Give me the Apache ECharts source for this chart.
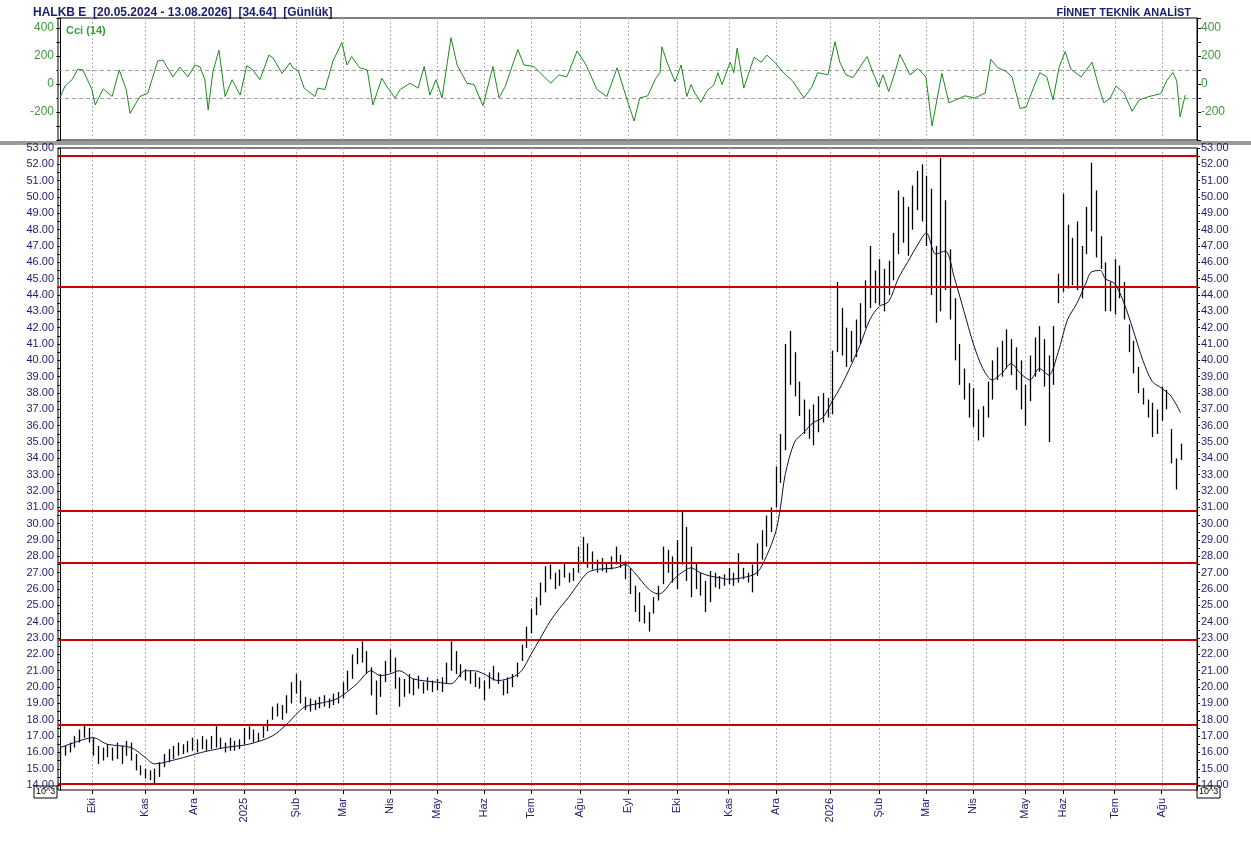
<!DOCTYPE html>
<html lang="tr">
<head>
<meta charset="UTF-8">
<script src="https://cdn.jsdelivr.net/npm/echarts@6/dist/echarts.min.js"></script>
<title>HALKB E</title>
<style>
  html, body { margin: 0; padding: 0; background: #fff; }
  #chart { width: 1251px; height: 841px; }
</style>
</head>
<body>
<div id="chart"></div>
<script>
// ay etiketleri (bar indeksine göre)
const monthIdx = [6.8, 18, 28.3, 39, 50, 60, 70, 80, 90, 100, 110.5, 120.7, 131, 142, 152, 163.6, 174, 184, 194, 205, 213, 224, 234];
const monthLabels = ['Eki', 'Kas', 'Ara', '2025', 'Şub', 'Mar', 'Nis', 'May', 'Haz', 'Tem', 'Ağu', 'Eyl', 'Eki', 'Kas', 'Ara', '2026', 'Şub', 'Mar', 'Nis', 'May', 'Haz', 'Tem', 'Ağu'];

// fiyat ekseni etiketleri
const priceTicks = [14, 15, 16, 17, 18, 19, 20, 21, 22, 23, 24, 25, 26, 27, 28, 29, 30, 31, 32, 33, 34, 35, 36, 37, 38, 39, 40, 41, 42, 43, 44, 45, 46, 47, 48, 49, 50, 51, 52, 53];

// fiyat barları (yüksek / düşük)
const highs = [
  16.3, 16.4, 16.6, 17.0, 17.4, 17.7, 17.5,
  16.9, 16.4, 16.3, 16.5, 16.3, 16.6, 16.4, 16.7, 16.6, 15.9, 15.2,
  15.0, 14.9, 15.0, 15.4, 15.9, 16.2, 16.4, 16.6, 16.5, 16.7,
  16.9, 16.8, 17.0, 16.8, 17.0, 17.6, 16.9, 16.6, 16.9, 16.7, 16.8,
  17.5, 17.6, 17.4, 17.2, 17.6, 18.0, 18.8, 19.0, 18.9, 19.5, 20.3,
  20.8, 20.4, 19.4, 19.3, 19.2, 19.4, 19.5, 19.3, 19.6, 19.7,
  20.3, 21.0, 22.0, 22.4, 22.8, 22.2, 21.2, 20.4, 20.8, 21.6,
  22.3, 21.8, 20.6, 20.5, 20.8, 20.5, 20.7, 20.3, 20.6, 20.4,
  20.5, 20.6, 21.5, 22.8, 22.2, 21.4, 21.1, 21.0, 20.9, 20.6,
  20.4, 20.9, 21.3, 20.9, 20.4, 20.6, 20.8, 21.5, 22.6, 23.7,
  24.8, 25.5, 26.4, 27.4, 27.5, 27.0, 27.2, 27.6, 27.0, 27.3,
  28.6, 29.2, 28.8, 28.3, 27.8, 27.9, 27.6, 28.0, 28.6, 28.1,
  27.7, 27.3, 26.2, 25.8, 25.0, 24.6, 25.5, 26.2, 28.6, 28.4,
  28.0, 29.0, 30.8, 29.8, 28.6, 27.6, 27.0, 26.5, 27.1, 27.0, 26.8, 26.9,
  27.3, 27.0, 28.2, 27.3, 27.0, 27.5, 28.8, 29.6, 30.5, 31.0,
  33.5, 35.5, 41.0, 41.8, 40.5, 38.7, 37.6, 37.0, 37.3, 37.8, 38.0, 37.7,
  40.6, 44.8, 43.2, 42.0, 41.8, 42.5, 43.5, 44.9, 47.0, 45.5,
  46.2, 45.6, 46.1, 47.8, 50.4, 50.0, 49.4, 50.7, 51.6, 52.0,
  51.3, 50.5, 47.0, 52.4, 49.8, 46.8, 43.8, 41.0, 39.5, 38.6,
  38.3, 37.0, 37.2, 38.7, 40.0, 40.8, 41.2, 41.9, 41.3, 40.8,
  40.0, 38.5, 40.3, 41.4, 42.1, 41.3, 40.3, 42.1, 45.3,
  50.2, 48.3, 47.5, 48.5, 47.0, 49.4, 52.1, 50.4, 47.6, 46.0, 44.8,
  46.2, 45.8, 44.8, 42.2, 41.2, 39.6, 38.3, 37.6, 37.4, 37.0,
  38.4, 38.2, 35.8, 34.0, 34.9
];
const lows = [
  15.1, 15.8, 16.0, 16.3, 16.6, 16.9, 16.6,
  15.8, 15.3, 15.5, 15.7, 15.5, 15.6, 15.3, 15.8, 15.5, 14.9, 14.6,
  14.4, 14.3, 14.1, 14.5, 15.1, 15.4, 15.6, 15.8, 15.9, 16.0,
  16.1, 16.0, 16.2, 16.1, 16.2, 16.3, 16.2, 16.0, 16.1, 16.1, 16.2,
  16.5, 16.8, 16.6, 16.7, 16.9, 17.3, 18.0, 18.2, 18.0, 18.4, 19.0,
  19.6, 19.0, 18.6, 18.5, 18.6, 18.7, 18.8, 18.7, 18.9, 19.0,
  19.3, 19.8, 20.5, 21.4, 21.5, 20.8, 19.5, 18.3, 19.4, 20.3,
  20.9, 19.9, 18.8, 19.4, 19.6, 19.5, 19.9, 19.6, 19.8, 19.7,
  19.8, 19.7, 20.2, 21.0, 20.8, 20.6, 20.4, 20.2, 20.0, 19.9,
  19.2, 19.9, 20.4, 20.2, 19.5, 19.6, 20.0, 20.6, 21.6, 22.4,
  23.3, 24.4, 25.0, 25.8, 26.6, 26.0, 26.2, 26.7, 26.4, 26.5,
  27.0, 27.6, 27.3, 27.2, 27.0, 27.1, 27.0, 27.2, 27.5, 27.3,
  26.6, 25.7, 24.6, 24.0, 23.9, 23.4, 24.5, 25.3, 26.3, 27.0,
  26.4, 26.0, 27.5, 26.5, 25.5, 26.0, 25.6, 24.6, 25.2, 26.1, 26.0, 26.2,
  26.3, 26.2, 26.4, 26.6, 26.4, 25.8, 26.8, 27.8, 28.6, 29.5,
  31.0, 32.5, 34.5, 38.5, 37.8, 36.6, 35.5, 35.2, 34.8, 35.6, 36.2, 36.5,
  36.7, 40.5, 40.3, 39.6, 39.9, 40.2, 41.0, 42.0, 43.2, 43.5,
  43.4, 43.0, 44.0, 44.9, 46.5, 47.2, 46.4, 48.0, 49.2, 48.5,
  47.0, 44.0, 42.3, 43.0, 44.3, 42.5, 40.0, 38.5, 37.6, 36.5,
  35.9, 35.1, 35.3, 36.5, 37.6, 38.8, 39.0, 39.5, 39.1, 38.2,
  37.0, 36.0, 37.5, 39.0, 39.3, 38.4, 35.0, 38.5, 43.5,
  44.2, 44.4, 44.6, 44.3, 43.8, 46.5, 47.9, 46.3, 45.6, 43.0, 43.0,
  42.8, 43.8, 42.5, 40.5, 39.2, 38.0, 37.3, 36.5, 35.3, 35.5,
  36.3, 37.0, 33.7, 32.1, 33.9
];

// hareketli ortalama (okunan noktalar)
const maIdx = [0, 5, 7, 10, 15, 18, 20, 25, 30, 35, 40, 45, 48, 50, 52, 55, 58, 60, 63, 66, 68, 70, 72, 75, 80, 83, 86, 88, 90, 93, 96, 98, 100, 102, 104, 106, 108, 110, 112, 114, 118, 120, 122, 125, 127, 128, 130, 132, 134, 136, 138, 140, 142, 145, 148, 150, 152, 153, 154, 156, 158, 160, 162, 164, 166, 168, 170, 172, 174, 176, 178, 180, 182, 184, 186, 188, 190, 192, 194, 196, 198, 200, 202, 204, 206, 208, 210, 212, 214, 216, 218, 219, 221, 222, 224, 226, 228, 230, 232, 234, 236, 238];
const maVal = [16.3, 16.8, 16.9, 16.5, 16.3, 15.7, 15.3, 15.6, 16.0, 16.3, 16.5, 17.0, 17.7, 18.3, 18.8, 19.0, 19.2, 19.5, 20.2, 21.0, 20.7, 20.8, 21.0, 20.5, 20.3, 20.2, 21.0, 21.0, 20.8, 20.4, 20.6, 21.0, 22.0, 23.0, 24.0, 24.8, 25.5, 26.3, 27.0, 27.2, 27.3, 27.5, 27.0, 26.0, 25.7, 25.8, 26.5, 27.0, 27.3, 27.0, 26.8, 26.7, 26.6, 26.7, 27.0, 28.0, 29.5, 31.0, 33.0, 35.0, 35.6, 36.2, 36.5, 37.5, 38.5, 39.7, 41.0, 42.5, 43.3, 43.6, 45.0, 46.0, 47.0, 47.8, 46.5, 46.7, 45.0, 43.0, 41.0, 39.5, 38.8, 39.2, 39.8, 39.2, 38.8, 39.5, 39.1, 40.5, 42.5, 43.5, 44.8, 45.4, 45.5, 45.0, 44.7, 43.5, 41.8, 40.0, 38.7, 38.3, 37.8, 36.8];

// CCI (14)
const cciIdx = [0, 1, 2.5, 3.7, 4.8, 6.7, 7.4, 9.1, 11, 12.5, 14, 14.8, 16.9, 18.6, 20.7, 21.8, 23.9, 25.4, 27.1, 28.6, 29.7, 30.7, 31.4, 32.4, 33.7, 35, 36.5, 38.2, 39.6, 40.9, 42.4, 44.3, 45.2, 47.1, 48.8, 49.4, 50.5, 51.8, 54.1, 54.7, 56.2, 57.9, 59.8, 60.9, 61.9, 63.6, 65.2, 66.4, 68.3, 69.4, 71.1, 72.2, 74.3, 76, 77.3, 78.5, 79.8, 81.1, 83, 84.3, 86.4, 87.9, 89.8, 91.9, 93.2, 94.5, 97.2, 98.5, 100.6, 101.9, 104.2, 105.9, 107.6, 109.8, 111.7, 114, 116.1, 118.3, 120.2, 121.9, 123.1, 124.8, 126.5, 127.4, 127.8, 128.9, 130.6, 131.9, 133.1, 134, 134.8, 136.1, 137.4, 138.9, 139.7, 140.6, 142.3, 143.1, 143.8, 145.2, 146.1, 147.4, 148.9, 150.1, 151.8, 153.5, 155.6, 158, 159.7, 160.9, 163.1, 164.6, 165.6, 166.9, 168.4, 171.4, 172.6, 173.9, 174.8, 176, 177.3, 178.4, 180.5, 182.2, 183.9, 185.2, 187.3, 188.8, 190.5, 192.2, 194.3, 196.5, 197.7, 199.2, 200.9, 202.2, 203.9, 205.2, 206.9, 208.1, 209.6, 210.9, 212.2, 213.5, 214.7, 216.9, 219.2, 220.5, 221.7, 223, 224.3, 226, 227.7, 229.2, 231.3, 233.8, 235.1, 236.4, 237.2, 237.9, 239];
const cciVal = [-90, -15, 30, 105, 100, -40, -150, -35, -90, 100, -40, -210, -90, -65, 165, 170, 50, 120, 50, 135, 120, 30, -185, 85, 240, -90, 30, -80, 130, 100, 30, 205, 185, 75, 150, 115, 95, -30, -90, -30, -40, 160, 295, 135, 195, 115, 100, -150, 40, -20, -100, -40, 5, -30, 125, -80, 30, -100, 330, 135, 5, -5, -155, 125, -100, -20, 245, 135, 125, 80, 5, 65, 50, 235, 135, -40, -90, 115, -90, -265, -100, -85, 40, 80, 265, 155, 15, 135, -90, -5, -65, -130, -50, -5, 80, -5, 155, 80, 255, -30, 60, 190, 155, 205, 155, 85, 20, -100, -20, 80, 65, 300, 155, 65, 45, 195, 85, -20, 65, -55, 80, 210, 65, 110, 50, -300, 75, -135, -110, -85, -100, -65, 175, 115, 90, 50, -175, -165, -15, 80, 50, -115, 120, 230, 105, 50, 155, -5, -135, -105, -15, -65, -195, -115, -90, -70, 25, 80, 20, -235, -80];

// yatay destek/direnç çizgileri
const levels = [52.5, 44.5, 30.8, 27.6, 22.9, 17.7, 14.1];

const navy = '#1c1c6c';
const green = '#3c9c3c';
const nSlots = 242;

const chart = echarts.init(document.getElementById('chart'));

const bars = highs.map((h, i) => [i, lows[i], h]);
const maData = maIdx.map((x, i) => [x, maVal[i]]);
const cciData = cciIdx.map((x, i) => [x, cciVal[i]]);
const halfTicks = [];
priceTicks.forEach(v => { halfTicks.push(v); if (v < 53) halfTicks.push(v + 0.5); });

function xAxisBase(gi, showLabels) {
  return {
    type: 'value', gridIndex: gi, min: -0.5, max: nSlots - 0.5,
    splitLine: { show: false },
    axisLine: { show: false },
    axisTick: showLabels ? { show: true, customValues: monthIdx, length: 4, lineStyle: { color: '#000' } } : { show: false },
    axisLabel: showLabels ? {
      show: true, customValues: monthIdx, rotate: 90, color: navy, fontSize: 11,
      fontFamily: 'Arial', margin: 8,
      formatter: v => { const k = monthIdx.indexOf(v); return k >= 0 ? monthLabels[k] : ''; }
    } : { show: false }
  };
}

function priceAxis(pos) {
  return {
    type: 'value', gridIndex: 1, position: pos, min: 13.7, max: 53,
    splitLine: { show: false },
    axisLine: { show: true, lineStyle: { color: '#000' } },
    axisTick: { show: true, customValues: halfTicks, length: 3, lineStyle: { color: '#000' } },
    axisLabel: {
      customValues: priceTicks,
      color: navy, fontSize: 11, fontFamily: 'Arial', margin: 4,
      formatter: v => v.toFixed(2)
    }
  };
}

function cciAxis(pos) {
  return {
    type: 'value', gridIndex: 0, position: pos, min: -400, max: 470, interval: 100,
    splitLine: { show: false },
    axisLine: { show: true, lineStyle: { color: '#000' } },
    axisTick: { show: true, length: 4, lineStyle: { color: '#000' } },
    axisLabel: {
      color: green, fontSize: 12, fontFamily: 'Arial', margin: 4,
      formatter: v => ([400, 200, 0, -200].includes(v) ? String(v) : '')
    }
  };
}

// dikey ay çizgileri: ızgara yüksekliği boyunca noktalı çizgi
function monthGrid(xi, yi) {
  return {
    type: 'custom', xAxisIndex: xi, yAxisIndex: yi, data: monthIdx.map(x => [x]), z: 1, silent: true,
    renderItem: (params, api) => {
      const p = api.coord([api.value(0), 0]);
      const px = Math.round(p[0]) + 0.5;
      const cs = params.coordSys;
      return { type: 'line', shape: { x1: px, y1: cs.y, x2: px, y2: cs.y + cs.height },
        style: { stroke: '#b0b0b0', lineWidth: 1, lineDash: [2, 2] } };
    },
    encode: { x: 0 }
  };
}

const option = {
  backgroundColor: '#fff',
  animation: false,
  title: [
    { text: 'HALKB E  [20.05.2024 - 13.08.2026]  [34.64]  [Günlük]', left: 28, top: 2,
      textStyle: { color: navy, fontSize: 12, fontWeight: 'bold', fontFamily: 'Arial' } },
    { text: 'FİNNET TEKNİK ANALİST', right: 55, top: 2,
      textStyle: { color: navy, fontSize: 11, fontWeight: 'bold', fontFamily: 'Arial' } },
    { text: 'Cci (14)', left: 61, top: 20,
      textStyle: { color: green, fontSize: 11, fontWeight: 'bold', fontFamily: 'Arial' } }
  ],
  grid: [
    { left: 58, right: 54, top: 18, height: 122, show: true, borderColor: '#000', borderWidth: 1, backgroundColor: '#fff' },
    { left: 58, right: 54, top: 148, height: 642, show: true, borderColor: '#000', borderWidth: 1, backgroundColor: '#fff' }
  ],
  xAxis: [xAxisBase(0, false), xAxisBase(1, true)],
  yAxis: [cciAxis('left'), cciAxis('right'), priceAxis('left'), priceAxis('right')],
  graphic: [
    { type: 'rect', shape: { x: 0, y: 141, width: 1251, height: 4 }, style: { fill: '#9a9a9a' } },
    { type: 'rect', shape: { x: 34, y: 786, width: 23, height: 12 }, style: { fill: '#fff', stroke: '#000', lineWidth: 1 } },
    { type: 'text', x: 36, y: 787, style: { text: '10^3', fontSize: 9, fill: '#000', fontFamily: 'Arial' } },
    { type: 'rect', shape: { x: 1197, y: 786, width: 23, height: 12 }, style: { fill: '#fff', stroke: '#000', lineWidth: 1 } },
    { type: 'text', x: 1199, y: 787, style: { text: '10^3', fontSize: 9, fill: '#000', fontFamily: 'Arial' } }
  ],
  series: [
    monthGrid(0, 0),
    monthGrid(1, 2),
    {
      type: 'line', xAxisIndex: 0, yAxisIndex: 0, data: cciData, showSymbol: false,
      lineStyle: { color: '#1f8a1f', width: 1 }, z: 5,
      markLine: {
        silent: true, symbol: 'none', label: { show: false },
        data: [
          { yAxis: 100, lineStyle: { color: '#a0a0a0', type: [4, 3], width: 1 } },
          { yAxis: -100, lineStyle: { color: '#a0a0a0', type: [4, 3], width: 1 } }
        ]
      }
    },
    {
      type: 'custom', xAxisIndex: 1, yAxisIndex: 2, data: bars, z: 4,
      renderItem: (params, api) => {
        const x = api.value(0);
        const lo = api.coord([x, api.value(1)]);
        const hi = api.coord([x, api.value(2)]);
        const px = Math.round(lo[0]) + 0.5;
        return { type: 'line', shape: { x1: px, y1: lo[1], x2: px, y2: hi[1] }, style: { stroke: '#000', lineWidth: 1.3 } };
      },
      encode: { x: 0, y: [1, 2] }
    },
    {
      type: 'line', xAxisIndex: 1, yAxisIndex: 2, data: maData, showSymbol: false, smooth: 0.3,
      lineStyle: { color: '#101040', width: 1 }, z: 6,
      markLine: {
        silent: true, symbol: 'none', label: { show: false },
        data: levels.map(v => ({ yAxis: v, lineStyle: { color: '#cc0000', type: 'solid', width: 2 } }))
      }
    }
  ]
};

chart.setOption(option);
</script>
</body>
</html>
